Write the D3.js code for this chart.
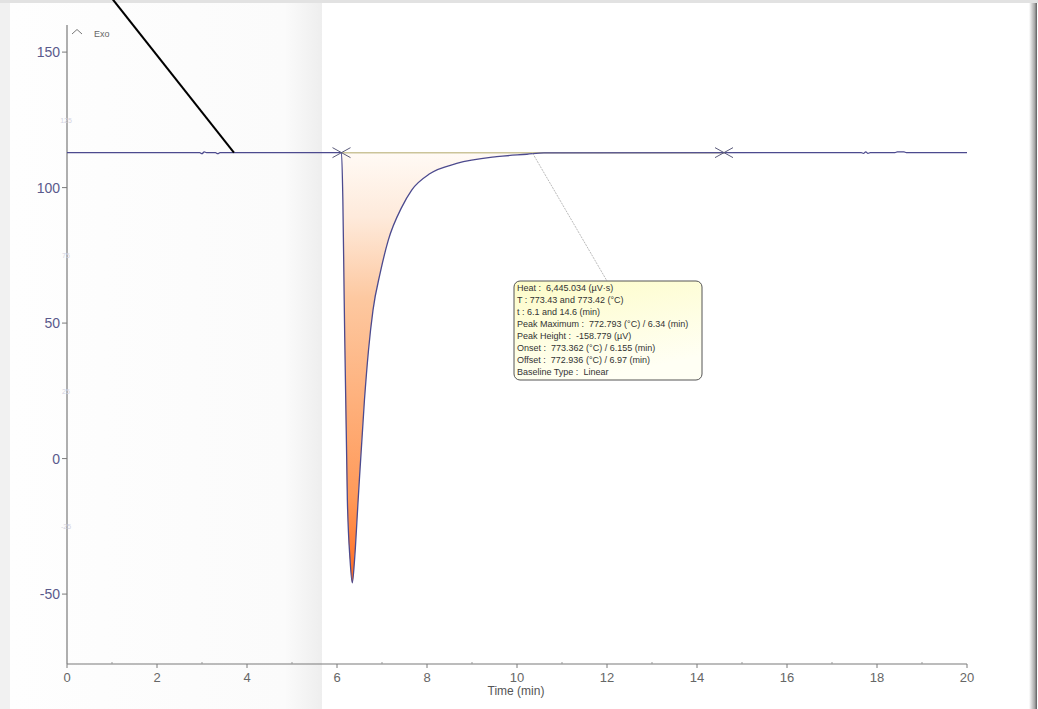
<!DOCTYPE html>
<html>
<head>
<meta charset="utf-8">
<script src="https://cdn.jsdelivr.net/npm/d3@7"></script>
<style>
  html, body { margin: 0; padding: 0; background: #ffffff; }
  svg { display: block; font-family: "Liberation Sans", Arial, sans-serif; }
  .readout text { white-space: pre; }
</style>
</head>
<body>
<svg id="chart" width="1038" height="709"></svg>
<script>
// DSC heat-flow trace (µV) against time (min)
const timeMin = [0, 2.95, 3.0, 3.05, 3.1, 3.3, 3.35, 3.4,
  6.1, 6.13, 6.16, 6.23, 6.29, 6.34, 6.39, 6.47, 6.61, 6.70, 6.80, 6.96,
  7.14, 7.44, 7.66, 8.07, 8.66, 9.55, 10.22, 10.6,
  17.65, 17.7, 17.75, 17.8, 17.85, 18.4, 18.45, 18.6, 18.65, 20];
const signalUV = [112.9, 112.9, 112.5, 113.2, 112.9, 112.9, 112.5, 112.9,
  112.9, 95.6, 58.7, -15.1, -37.3, -45.88, -37.4, -15.3, 21.6, 40.0, 54.8, 68.5,
  80.6, 92.8, 99.1, 105.2, 108.9, 111.4, 112.3, 112.8,
  112.9, 112.6, 113.2, 112.6, 112.9, 112.9, 113.2, 113.2, 112.9, 112.9];

// Linear integration baseline between the two limit markers
const limitTimes = [6.1, 14.6];
const limitValues = [112.9, 112.9];

// Axis ticks
const xTicks = [0, 2, 4, 6, 8, 10, 12, 14, 16, 18, 20];
const xMinorTicks = [1, 3, 5, 7, 9, 11, 13, 15, 17, 19];
const yTicks = [-50, 0, 50, 100, 150];
const yMinorTicks = [-25, 25, 75, 125];

// Peak evaluation readout
const peakInfo = [
  "Heat :  6,445.034 (µV·s)",
  "T : 773.43 and 773.42 (°C)",
  "t : 6.1 and 14.6 (min)",
  "Peak Maximum :  772.793 (°C) / 6.34 (min)",
  "Peak Height :  -158.779 (µV)",
  "Onset :  773.362 (°C) / 6.155 (min)",
  "Offset :  772.936 (°C) / 6.97 (min)",
  "Baseline Type :  Linear"
];
const leaderPoint = [10.35, 112.6];
const pointerLine = { t: [1.02, 3.71], v: [169.4, 112.9] };

const svg = d3.select("#chart");
const W = 1038, H = 709;
const x = d3.scaleLinear().domain([0, 20]).range([67, 967]);
const y = d3.scaleLinear().domain([-75.8, 160]).range([664, 25]);

const defs = svg.append("defs");
const panelGrad = defs.append("linearGradient").attr("id", "panelGrad")
  .attr("x1", 0).attr("x2", 1).attr("y1", 0).attr("y2", 0);
panelGrad.append("stop").attr("offset", "0%").attr("stop-color", "#fefefe");
panelGrad.append("stop").attr("offset", "88%").attr("stop-color", "#fbfbfb");
panelGrad.append("stop").attr("offset", "100%").attr("stop-color", "#eeeeee");

const edgeGrad = defs.append("linearGradient").attr("id", "edgeGrad")
  .attr("x1", 0).attr("x2", 1).attr("y1", 0).attr("y2", 0);
edgeGrad.append("stop").attr("offset", "0%").attr("stop-color", "#ffffff");
edgeGrad.append("stop").attr("offset", "70%").attr("stop-color", "#a8a8a8");
edgeGrad.append("stop").attr("offset", "100%").attr("stop-color", "#5e5e5e");

const fillGrad = defs.append("linearGradient").attr("id", "peakFill")
  .attr("gradientUnits", "userSpaceOnUse")
  .attr("x1", 0).attr("x2", 0)
  .attr("y1", y(limitValues[0])).attr("y2", y(d3.min(signalUV)));
fillGrad.append("stop").attr("offset", "0%").attr("stop-color", "#fffaf5");
fillGrad.append("stop").attr("offset", "15%").attr("stop-color", "#feeadb");
fillGrad.append("stop").attr("offset", "34%").attr("stop-color", "#fdc8a0");
fillGrad.append("stop").attr("offset", "80%").attr("stop-color", "#ff9a5a");
fillGrad.append("stop").attr("offset", "100%").attr("stop-color", "#ff6a20");

const boxGrad = defs.append("linearGradient").attr("id", "boxFill")
  .attr("x1", 0).attr("x2", 0.4).attr("y1", 0).attr("y2", 1);
boxGrad.append("stop").attr("offset", "0%").attr("stop-color", "#fdfcc8");
boxGrad.append("stop").attr("offset", "100%").attr("stop-color", "#fffff4");

// Window background pieces
svg.append("rect").attr("width", W).attr("height", H).attr("fill", "#ffffff");
svg.append("rect").attr("x", 10).attr("y", 3).attr("width", 312).attr("height", H - 3)
  .attr("fill", "url(#panelGrad)");
svg.append("rect").attr("x", 0).attr("y", 0).attr("width", 10).attr("height", H).attr("fill", "#f1f1f1");
svg.append("rect").attr("x", 0).attr("y", 0).attr("width", W).attr("height", 3).attr("fill", "#e2e2e2");
svg.append("rect").attr("x", 1029).attr("y", 3).attr("width", 8).attr("height", H - 3)
  .attr("fill", "url(#edgeGrad)");

// Axes
const axisColor = "#7a7a7a";
svg.append("line").attr("x1", x(0)).attr("x2", x(0)).attr("y1", y.range()[1]).attr("y2", y.range()[0])
  .attr("stroke", axisColor).attr("stroke-width", 1.2);
svg.append("line").attr("x1", x(0)).attr("x2", x(20)).attr("y1", y.range()[0]).attr("y2", y.range()[0])
  .attr("stroke", axisColor).attr("stroke-width", 1.2);

const yAx = svg.append("g");
yAx.selectAll(".yt").data(yTicks).join("line")
  .attr("x1", x(0) - 5).attr("x2", x(0)).attr("y1", d => y(d)).attr("y2", d => y(d))
  .attr("stroke", axisColor);
yAx.selectAll(".yl").data(yTicks).join("text")
  .attr("x", x(0) - 7).attr("y", d => y(d) + 5)
  .attr("text-anchor", "end").attr("font-size", 14).attr("fill", "#5a5a8c")
  .text(d => d);
yAx.selectAll(".ym").data(yMinorTicks).join("text")
  .attr("x", x(0) - 1).attr("y", d => y(d) + 3)
  .attr("text-anchor", "middle").attr("font-size", 7).attr("fill", "#d4d4e2")
  .text(d => d);

const xAx = svg.append("g");
xAx.selectAll(".xt").data(xTicks).join("line")
  .attr("x1", d => x(d)).attr("x2", d => x(d)).attr("y1", y.range()[0]).attr("y2", y.range()[0] + 4)
  .attr("stroke", axisColor);
xAx.selectAll(".xm").data(xMinorTicks).join("line")
  .attr("x1", d => x(d)).attr("x2", d => x(d)).attr("y1", y.range()[0] - 2).attr("y2", y.range()[0])
  .attr("stroke", "#999");
xAx.selectAll(".xl").data(xTicks).join("text")
  .attr("x", d => x(d)).attr("y", y.range()[0] + 18)
  .attr("text-anchor", "middle").attr("font-size", 13).attr("fill", "#666")
  .text(d => d);
svg.append("text").attr("x", x(10) - 1).attr("y", y.range()[0] + 31)
  .attr("text-anchor", "middle").attr("font-size", 12).attr("fill", "#555")
  .text("Time (min)");

// Exo direction indicator
svg.append("polyline")
  .attr("points", `${x(0) + 5},34 ${x(0) + 10},29.5 ${x(0) + 15},34`)
  .attr("fill", "none").attr("stroke", "#777").attr("stroke-width", 1);
svg.append("text").attr("x", x(0) + 27).attr("y", 37).attr("font-size", 9).attr("fill", "#666").text("Exo");

// Peak area between the linear baseline and the signal
const pts = timeMin.map((t, i) => ({ t, v: signalUV[i] }));
const areaPts = pts.filter(p => p.t >= limitTimes[0] && p.t <= limitTimes[1]);
svg.append("path").datum(areaPts)
  .attr("d", d3.area().x(p => x(p.t)).y0(y(limitValues[0])).y1(p => y(p.v)).curve(d3.curveMonotoneX))
  .attr("fill", "url(#peakFill)");

// Integration baseline
svg.append("line")
  .attr("x1", x(limitTimes[0])).attr("x2", x(limitTimes[1]))
  .attr("y1", y(limitValues[0])).attr("y2", y(limitValues[1]))
  .attr("stroke", "#cbc49a").attr("stroke-width", 1.5);

// Signal trace
svg.append("path").datum(pts)
  .attr("d", d3.line().x(p => x(p.t)).y(p => y(p.v)).curve(d3.curveMonotoneX))
  .attr("fill", "none").attr("stroke", "#4c4a8e").attr("stroke-width", 1.3);

// Limit markers
limitTimes.forEach((t, i) => {
  const cx = x(t), cy = y(limitValues[i]);
  svg.append("path")
    .attr("d", `M${cx - 9},${cy - 5}L${cx + 9},${cy + 5}M${cx - 9},${cy + 5}L${cx + 9},${cy - 5}`)
    .attr("stroke", "#5a5a7a").attr("stroke-width", 1).attr("fill", "none");
});

// Readout box with leader line
const box = { x: 514, y: 281, w: 188, h: 99 };
svg.append("line")
  .attr("x1", x(leaderPoint[0])).attr("y1", y(leaderPoint[1]))
  .attr("x2", 607).attr("y2", box.y)
  .attr("stroke", "#a8a8a8").attr("stroke-width", 0.8).attr("stroke-dasharray", "2,1");
svg.append("rect").attr("x", box.x).attr("y", box.y).attr("width", box.w).attr("height", box.h)
  .attr("rx", 6).attr("ry", 6)
  .attr("fill", "url(#boxFill)").attr("stroke", "#555").attr("stroke-width", 1);
svg.append("g").attr("class", "readout").selectAll("text").data(peakInfo).join("text")
  .attr("x", box.x + 3).attr("y", (d, i) => box.y + 10 + i * 12)
  .attr("font-size", 9).attr("fill", "#333")
  .text(d => d);

// Pointer line
svg.append("line")
  .attr("x1", x(pointerLine.t[0])).attr("y1", y(pointerLine.v[0]))
  .attr("x2", x(pointerLine.t[1])).attr("y2", y(pointerLine.v[1]))
  .attr("stroke", "#000").attr("stroke-width", 2);
</script>
</body>
</html>
